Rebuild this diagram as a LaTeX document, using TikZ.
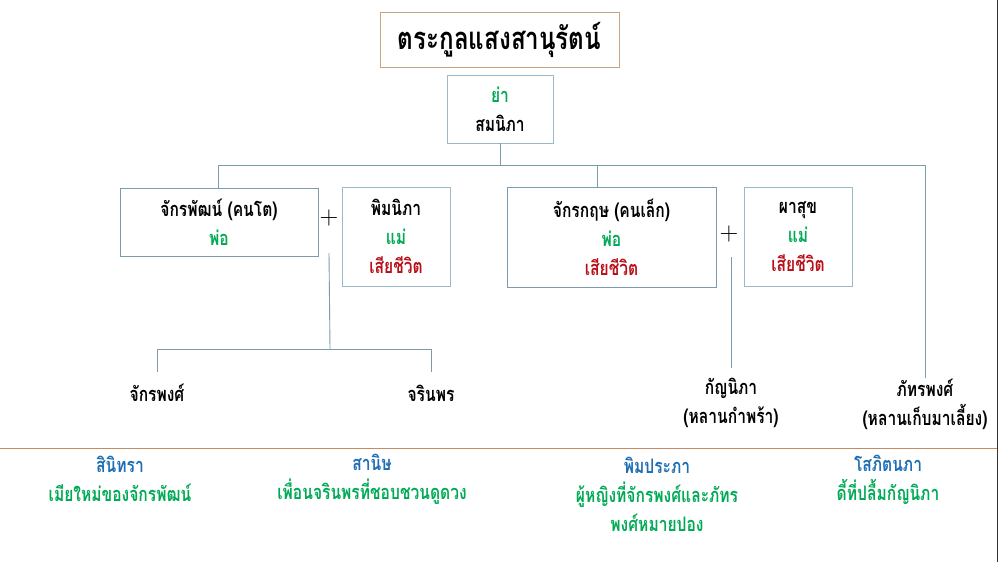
\documentclass[tikz,border=0pt]{standalone}
\usepackage{fontspec}
\newfontfamily\thai[Script=Thai, FakeStretch=0.78]{Loma}
\usetikzlibrary{calc}
\definecolor{boxc}{RGB}{125,155,175}
\definecolor{boxl}{RGB}{155,185,200}
\definecolor{titc}{RGB}{200,165,130}
\definecolor{sepc}{RGB}{195,140,100}
\definecolor{grc}{RGB}{0,170,85}
\definecolor{rdc}{RGB}{185,15,25}
\definecolor{blc}{RGB}{30,110,180}
\tikzset{
  box/.style={draw=boxc, line width=0.9pt, align=center, inner sep=0pt,
    font=\thai\bfseries\fontsize{20}{29}\selectfont},
  lightbox/.style={box, draw=boxl},
  link/.style={draw=boxc, line width=0.9pt},
  lbl/.style={align=center, inner sep=0pt, font=\thai\bfseries\fontsize{20}{29}\selectfont},
  plus/.style={inner sep=0pt, font=\fontsize{26}{26}\selectfont},
}
\begin{document}
\begin{tikzpicture}[x=1pt,y=-1pt]
\useasboundingbox[fill=white] (0,0) rectangle (1000,562);
% title
\node[draw=titc, line width=0.9pt, minimum width=239pt, minimum height=55pt, inner sep=0pt,
  font=\thai\bfseries\fontsize{31}{34}\selectfont] (title) at (499.5,39.5) {ตระกูลแสงสานุรัตน์};
% grandmother
\node[lightbox, minimum width=106pt, minimum height=68pt] (ya) at (500,109)
  {\textcolor{grc}{ย่า}\\สมนิภา};
% second generation
\node[box, minimum width=198pt, minimum height=68pt] (jp) at (219,222)
  {จักรพัฒน์ (คนโต)\\\textcolor{grc}{พ่อ}};
\node[plus] (p1) at (329,218) {+};
\node[lightbox, minimum width=108pt, minimum height=99pt] (pm) at (396,236.5)
  {พิมนิภา\\\textcolor{grc}{แม่}\\\textcolor{rdc}{เสียชีวิต}};
\node[box, minimum width=209pt, minimum height=100pt] (jk) at (611.5,237)
  {จักรกฤษ (คนเล็ก)\\\textcolor{grc}{พ่อ}\\\textcolor{rdc}{เสียชีวิต}};
\node[plus] (p2) at (729,234) {+};
\node[lightbox, minimum width=108pt, minimum height=99pt] (ps) at (798,236.5)
  {ผาสุข\\\textcolor{grc}{แม่}\\\textcolor{rdc}{เสียชีวิต}};
% third generation
\node[lbl] (jpong) at (157,393) {จักรพงศ์};
\node[lbl] (jrin) at (431,393) {จรินพร};
\node[lbl] (kan) at (731,402.5) {กัญนิภา\\(หลานกำพร้า)};
\node[lbl] (phat) at (925,404) {ภัทรพงศ์\\(หลานเก็บมาเลี้ยง)};
% junctions
\coordinate (j0) at (500,165);
\coordinate (jl) at (218,165);
\coordinate (jm) at (597,165);
\coordinate (jr) at (925,165);
\coordinate (c1) at (329,253);
\coordinate (c2) at (330,349);
\coordinate (cl) at (157,349);
\coordinate (cr) at (431,349);
\coordinate (c3) at (731,257);
% connectors
\draw[link] (ya.south) -- (j0);
\draw[link] (jl) -- (jr);
\draw[link] (jl) -- (jl |- jp.north);
\draw[link] (jm) -- (jm |- jk.north);
\draw[link] (jr) -- (jr |- 0,378);
\draw[link] (c1) -- (c2);
\draw[link] (cl |- 0,372) -- (cl) -- (cr) -- (cr |- 0,372);
\draw[link] (c3) -- (c3 |- 0,368);
% separator
\draw[sepc, line width=0.9pt] (0,448) -- (998,448);
\draw[black!80, line width=1pt] (997.5,0) -- (997.5,562);
% bottom notes
\begin{scope}[every node/.style={lbl}]
\node (n1) at (120,479) {\textcolor{blc}{สินิทรา}\\\textcolor{grc}{เมียใหม่ของจักรพัฒน์}};
\node (n2) at (372,479) {\textcolor{blc}{สานิษ}\\\textcolor{grc}{เพื่อนจรินพรที่ชอบชวนดูดวง}};
\node (n3) at (657,494) {\textcolor{blc}{พิมประภา}\\\textcolor{grc}{ผู้หญิงที่จักรพงศ์และภัทร}\\\textcolor{grc}{พงศ์หมายปอง}};
\node (n4) at (888,479.5) {\textcolor{blc}{โสภิตนภา}\\\textcolor{grc}{ดี้ที่ปลื้มกัญนิภา}};
\end{scope}
\end{tikzpicture}
\end{document}
